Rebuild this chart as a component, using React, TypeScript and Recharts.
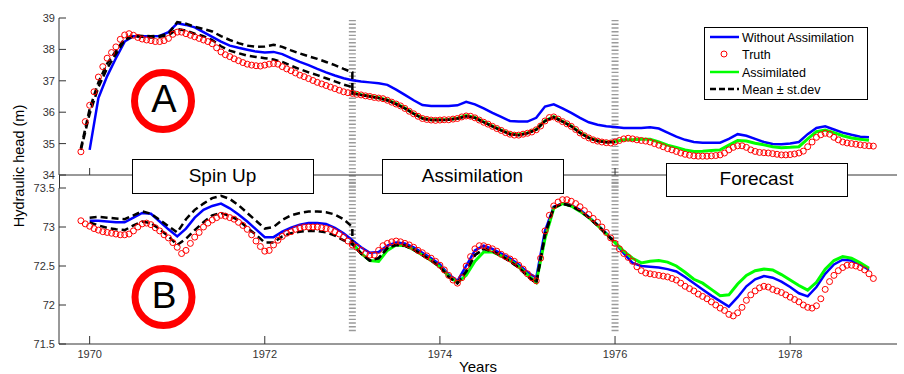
import { LineChart, Line, XAxis, YAxis, ReferenceLine } from "recharts";

// sampling times (decimal years)
const YEARS_LINE = [
  1969.9,
  1970, 1970.1, 1970.2, 1970.3, 1970.4, 1970.5, 1970.6, 1970.7, 1970.8, 1970.9,
  1971, 1971.1, 1971.2, 1971.3, 1971.4, 1971.5, 1971.6, 1971.7, 1971.8, 1971.9,
  1972, 1972.1, 1972.2, 1972.3, 1972.4, 1972.5, 1972.6, 1972.7, 1972.8, 1972.9,
  1973, 1973.1, 1973.2, 1973.3, 1973.4, 1973.5, 1973.6, 1973.7, 1973.8, 1973.9,
  1974, 1974.1, 1974.2, 1974.3, 1974.4, 1974.5, 1974.6, 1974.7, 1974.8, 1974.9,
  1975, 1975.1, 1975.2, 1975.3, 1975.4, 1975.5, 1975.6, 1975.7, 1975.8, 1975.9,
  1976, 1976.1, 1976.2, 1976.3, 1976.4, 1976.5, 1976.6, 1976.7, 1976.8, 1976.9,
  1977, 1977.1, 1977.2, 1977.3, 1977.4, 1977.5, 1977.6, 1977.7, 1977.8, 1977.9,
  1978, 1978.1, 1978.2, 1978.3, 1978.4, 1978.5, 1978.6, 1978.7, 1978.8, 1978.9,
];

const YEARS_TRUTH = [
  1969.9, 1969.95,
  1970, 1970.05, 1970.1, 1970.15, 1970.2, 1970.25, 1970.3, 1970.35, 1970.4, 1970.45,
  1970.5, 1970.55, 1970.6, 1970.65, 1970.7, 1970.75, 1970.8, 1970.85, 1970.9, 1970.95,
  1971, 1971.05, 1971.1, 1971.15, 1971.2, 1971.25, 1971.3, 1971.35, 1971.4, 1971.45,
  1971.5, 1971.55, 1971.6, 1971.65, 1971.7, 1971.75, 1971.8, 1971.85, 1971.9, 1971.95,
  1972, 1972.05, 1972.1, 1972.15, 1972.2, 1972.25, 1972.3, 1972.35, 1972.4, 1972.45,
  1972.5, 1972.55, 1972.6, 1972.65, 1972.7, 1972.75, 1972.8, 1972.85, 1972.9, 1972.95,
  1973, 1973.05, 1973.1, 1973.15, 1973.2, 1973.25, 1973.3, 1973.35, 1973.4, 1973.45,
  1973.5, 1973.55, 1973.6, 1973.65, 1973.7, 1973.75, 1973.8, 1973.85, 1973.9, 1973.95,
  1974, 1974.05, 1974.1, 1974.15, 1974.2, 1974.25, 1974.3, 1974.35, 1974.4, 1974.45,
  1974.5, 1974.55, 1974.6, 1974.65, 1974.7, 1974.75, 1974.8, 1974.85, 1974.9, 1974.95,
  1975, 1975.05, 1975.1, 1975.15, 1975.2, 1975.25, 1975.3, 1975.35, 1975.4, 1975.45,
  1975.5, 1975.55, 1975.6, 1975.65, 1975.7, 1975.75, 1975.8, 1975.85, 1975.9, 1975.95,
  1976, 1976.05, 1976.1, 1976.15, 1976.2, 1976.25, 1976.3, 1976.35, 1976.4, 1976.45,
  1976.5, 1976.55, 1976.6, 1976.65, 1976.7, 1976.75, 1976.8, 1976.85, 1976.9, 1976.95,
  1977, 1977.05, 1977.1, 1977.15, 1977.2, 1977.25, 1977.3, 1977.35, 1977.4, 1977.45,
  1977.5, 1977.55, 1977.6, 1977.65, 1977.7, 1977.75, 1977.8, 1977.85, 1977.9, 1977.95,
  1978, 1978.05, 1978.1, 1978.15, 1978.2, 1978.25, 1978.3, 1978.35, 1978.4, 1978.45,
  1978.5, 1978.55, 1978.6, 1978.65, 1978.7, 1978.75, 1978.8, 1978.85, 1978.9, 1978.95,
];

const X_TICKS = [1970, 1972, 1974, 1976, 1978];
const Y_TICKS_A = [34, 35, 36, 37, 38, 39];
const Y_TICKS_B = [71.5, 72, 72.5, 73, 73.5];
const PHASE_BOUNDS = [1973, 1976];
const PHASES = ["Spin Up", "Assimilation", "Forecast"];
const LEGEND = ["Without Assimilation", "Truth", "Assimilated", "Mean \u00b1 st.dev"];

// ---- panel A ----
const TRUTH_A = [
  34.74, 35.7,
  36.22, 36.65, 37.12, 37.45, 37.72, 37.9, 38.08, 38.32, 38.46, 38.5,
  38.45, 38.38, 38.33, 38.3, 38.28, 38.25, 38.25, 38.28, 38.35, 38.48,
  38.55, 38.55, 38.5, 38.45, 38.4, 38.35, 38.3, 38.25, 38.18, 38.05,
  37.92, 37.83, 37.77, 37.7, 37.64, 37.58, 37.53, 37.5, 37.48, 37.47,
  37.5, 37.53, 37.55, 37.53, 37.45, 37.38, 37.32, 37.25, 37.18, 37.13,
  37.07, 37.01, 36.95, 36.9, 36.85, 36.8, 36.75, 36.7, 36.65, 36.62,
  36.6, 36.57, 36.55, 36.52, 36.5, 36.47, 36.45, 36.43, 36.38, 36.32,
  36.26, 36.2, 36.12, 36.03, 35.95, 35.87, 35.8, 35.77, 35.75, 35.74,
  35.75, 35.76, 35.76, 35.78, 35.8, 35.85, 35.88, 35.87, 35.82, 35.75,
  35.68, 35.62, 35.55, 35.48, 35.42, 35.35, 35.3, 35.27, 35.27, 35.3,
  35.33, 35.37, 35.44, 35.56, 35.72, 35.83, 35.85, 35.78, 35.7, 35.63,
  35.55, 35.45, 35.34, 35.25, 35.18, 35.12, 35.08, 35.05, 35.03, 35.02,
  35.05, 35.1, 35.15, 35.17, 35.15, 35.12, 35.1, 35.08, 35.05, 35.0,
  34.95, 34.9, 34.84, 34.8, 34.75, 34.7, 34.66, 34.63, 34.61, 34.6,
  34.6, 34.6, 34.61, 34.62, 34.64, 34.7, 34.8, 34.88, 34.93, 34.93,
  34.88, 34.8, 34.75, 34.72, 34.71, 34.7, 34.68, 34.66, 34.64, 34.64,
  34.65, 34.67, 34.7, 34.76, 34.9, 35.05, 35.2, 35.28, 35.33, 35.3,
  35.2, 35.12, 35.05, 35.02, 35.0, 34.98, 34.96, 34.94, 34.93, 34.92,
];

const NO_ASSIM_A = [
  null,
  34.8, 36.45, 37.15, 37.72, 38.25, 38.42, 38.42, 38.42, 38.43, 38.55,
  38.83, 38.78, 38.7, 38.55, 38.4, 38.25, 38.12, 38.05, 37.99, 37.93,
  37.9, 37.92, 37.85, 37.72, 37.6, 37.5, 37.38, 37.27, 37.17, 37.08,
  37.02, 36.98, 36.95, 36.92, 36.87, 36.72, 36.55, 36.38, 36.23, 36.2,
  36.2, 36.2, 36.22, 36.33, 36.25, 36.12, 35.98, 35.85, 35.72, 35.7,
  35.7, 35.82, 36.18, 36.25, 36.12, 35.98, 35.82, 35.68, 35.6, 35.55,
  35.53, 35.5, 35.5, 35.5, 35.52, 35.48, 35.35, 35.22, 35.12, 35.05,
  35.03, 35.03, 35.03, 35.15, 35.3, 35.25, 35.15, 35.05, 34.99, 34.98,
  35.0, 35.05, 35.3, 35.5, 35.55, 35.45, 35.35, 35.28, 35.22, 35.2,
];

// 1973.0 .. 1978.9
const ASSIM_A = [
  36.62, 36.56, 36.51, 36.46, 36.39, 36.27, 36.13, 35.96, 35.81, 35.76,
  35.76, 35.77, 35.81, 35.89, 35.83, 35.69, 35.56, 35.43, 35.31, 35.28,
  35.34, 35.45, 35.73, 35.86, 35.71, 35.56, 35.35, 35.19, 35.09, 35.05,
  35.07, 35.12, 35.12, 35.14, 35.14, 35.05, 34.95, 34.88, 34.8, 34.75,
  34.76, 34.78, 34.8, 34.95, 35.1, 35.08, 35.01, 34.96, 34.9, 34.87,
  34.88, 34.9, 35.15, 35.38, 35.43, 35.35, 35.25, 35.18, 35.14, 35.11,
];

// spin-up ensemble mean +/- st.dev, 1969.9 .. 1973.0
const SPIN_HI_A = [
  34.85,
  36.1, 36.95, 37.55, 37.95, 38.35, 38.45, 38.43, 38.42, 38.43, 38.5,
  38.87, 38.82, 38.72, 38.65, 38.57, 38.42, 38.3, 38.2, 38.12, 38.08,
  38.09, 38.15, 38.08, 37.97, 37.87, 37.78, 37.7, 37.6, 37.5, 37.38,
  37.27,
];
const SPIN_LO_A = [
  34.8,
  35.95, 36.8, 37.4, 37.85, 38.3, 38.42, 38.4, 38.38, 38.4, 38.45,
  38.65, 38.6, 38.5, 38.42, 38.3, 38.1, 37.96, 37.88, 37.8, 37.76,
  37.72, 37.68, 37.6, 37.48, 37.37, 37.27, 37.18, 37.08, 36.98, 36.88,
  36.8,
];
// assimilation ensemble mean, 1973.0 .. 1976.0
const MEAN_ASSIM_A = [
  36.6, 36.55, 36.5, 36.45, 36.38, 36.26, 36.12, 35.95, 35.8, 35.75,
  35.75, 35.76, 35.8, 35.87, 35.82, 35.68, 35.55, 35.42, 35.3, 35.27,
  35.33, 35.44, 35.72, 35.84, 35.7, 35.55, 35.34, 35.18, 35.08, 35.04,
  35.05,
];

// ---- panel B ----
const TRUTH_B = [
  73.08, 73.04,
  73.01, 72.98, 72.96, 72.94, 72.93, 72.92, 72.91, 72.9, 72.9, 72.91,
  72.95, 73.0, 73.04, 73.05, 73.03, 72.99, 72.95, 72.9, 72.86, 72.8,
  72.74, 72.66, 72.7, 72.79, 72.87, 72.93, 73.0, 73.05, 73.09, 73.12,
  73.15, 73.14, 73.12, 73.1, 73.06, 73.02, 72.97, 72.9, 72.82, 72.75,
  72.69, 72.7, 72.77, 72.83, 72.88, 72.92, 72.94, 72.97, 72.99, 73.0,
  73.0, 73.0, 73.0, 72.99, 72.98, 72.97, 72.94, 72.91, 72.87, 72.82,
  72.77, 72.74, 72.7, 72.66, 72.64, 72.64, 72.7, 72.76, 72.79, 72.81,
  72.82, 72.81, 72.79, 72.77, 72.74, 72.7, 72.67, 72.63, 72.6, 72.56,
  72.51, 72.45, 72.38, 72.32, 72.28, 72.35, 72.5, 72.62, 72.72, 72.76,
  72.76, 72.74, 72.72, 72.69, 72.65, 72.62, 72.59, 72.56, 72.51, 72.46,
  72.4, 72.35, 72.31, 72.6, 72.95, 73.15, 73.27, 73.32, 73.35, 73.35,
  73.33, 73.3, 73.26, 73.21, 73.16, 73.11, 73.06, 73.0, 72.93, 72.86,
  72.79, 72.72, 72.66, 72.61, 72.56, 72.49, 72.44, 72.41, 72.4, 72.39,
  72.38, 72.37, 72.36, 72.34, 72.32, 72.28, 72.24, 72.21, 72.18, 72.14,
  72.11, 72.08, 72.04, 72.0, 71.96, 71.93, 71.88, 71.86, 71.9, 71.97,
  72.06, 72.13, 72.18, 72.22, 72.24, 72.23, 72.2, 72.18, 72.16, 72.13,
  72.1, 72.07, 72.04, 72.0, 71.97, 71.96, 71.99, 72.08, 72.2, 72.3,
  72.38, 72.44, 72.48, 72.51, 72.51, 72.5, 72.48, 72.45, 72.4, 72.34,
];

const NO_ASSIM_B = [
  null,
  73.08, 73.08, 73.07, 73.06, 73.06, 73.12, 73.18, 73.17, 73.07, 72.97,
  72.88, 72.98, 73.12, 73.22, 73.27, 73.3, 73.24, 73.16, 73.07, 72.97,
  72.87, 72.87, 72.94, 72.99, 73.03, 73.05, 73.05, 73.04, 72.99, 72.92,
  72.83, 72.74, 72.67, 72.68, 72.76, 72.8, 72.79, 72.74, 72.67, 72.6,
  72.52, 72.39, 72.31, 72.5, 72.7, 72.76, 72.72, 72.66, 72.6, 72.52,
  72.42, 72.35, 72.95, 73.26, 73.3, 73.28, 73.22, 73.13, 73.03, 72.92,
  72.8, 72.66, 72.54, 72.5, 72.49, 72.48, 72.46, 72.43, 72.36, 72.28,
  72.2, 72.12, 72.05, 71.98, 72.1, 72.24, 72.33, 72.37, 72.35, 72.3,
  72.23, 72.15, 72.11, 72.23, 72.4, 72.52, 72.58, 72.57, 72.52, 72.45,
];

const ASSIM_B = [
  72.8, 72.66, 72.57, 72.56, 72.7, 72.77, 72.76, 72.71, 72.64, 72.57,
  72.49, 72.37, 72.29, 72.38, 72.56, 72.68, 72.68, 72.63, 72.57, 72.49,
  72.39, 72.29, 72.85, 73.24, 73.3, 73.27, 73.2, 73.12, 73.02, 72.91,
  72.8, 72.69, 72.6, 72.54, 72.56, 72.57, 72.55, 72.5, 72.42, 72.33,
  72.28, 72.2, 72.12, 72.13, 72.27, 72.38, 72.44, 72.46, 72.45, 72.39,
  72.32, 72.25, 72.19, 72.29, 72.46, 72.57, 72.62, 72.6, 72.54, 72.47,
];

const SPIN_HI_B = [
  null,
  73.12, 73.13, 73.12, 73.11, 73.1, 73.15, 73.2, 73.17, 73.09, 73.01,
  72.93, 73.1, 73.22, 73.3, 73.37, 73.4, 73.36, 73.28, 73.18, 73.08,
  72.98, 73.0, 73.09, 73.15, 73.18, 73.2, 73.2, 73.19, 73.16, 73.1,
  73.0,
];
const SPIN_LO_B = [
  null,
  73.06, 73.02, 72.99, 72.97, 72.96, 73.02, 73.07, 73.05, 72.97, 72.88,
  72.77, 72.85, 72.96, 73.06, 73.15, 73.18, 73.14, 73.09, 72.99, 72.9,
  72.8, 72.8, 72.88, 72.92, 72.94, 72.95, 72.95, 72.93, 72.89, 72.83,
  72.78,
];
const MEAN_ASSIM_B = [
  72.78, 72.66, 72.57, 72.6, 72.73, 72.77, 72.76, 72.71, 72.64, 72.57,
  72.49, 72.36, 72.28, 72.43, 72.64, 72.72, 72.69, 72.63, 72.56, 72.48,
  72.37, 72.28, 72.9, 73.25, 73.3, 73.27, 73.21, 73.12, 73.02, 72.91,
  72.8,
];

// ---- layout / style ----
const FONT = '"Liberation Sans", Arial, Helvetica, sans-serif';
const AXIS = "#333";
const TICK = "#333";
const BLUE = "#0000ff";
const GREEN = "#00ff00";
const RED = "#ff0000";
const BLACK = "#000";
const HATCH = "#9a9a9a";
const X_DOMAIN: [number, number] = [1969.65, 1979.22];
const PLOT_LEFT = 59;
const TOP_H = 192;
const TOP_PLOT_BOTTOM = 175;
const BOT_TOP = 175;
const BOT_H = 199;
const BOT_PLOT_BOTTOM = 169; // local to the lower chart

type Pt = { x: number; y: number };
const toPoints = (xs: number[], ys: (number | null)[]): Pt[] =>
  xs
    .map((x, i) => ({ x, y: ys[i] as number }))
    .filter((p) => p.y !== null && p.y !== undefined);

const SPIN_YEARS = YEARS_LINE.slice(0, 32);
const ASSIM_MEAN_YEARS = YEARS_LINE.slice(31, 62);
const ASSIM_YEARS = YEARS_LINE.slice(31);

const YTick = (props: any) => {
  const { y, payload } = props;
  return (
    <g>
      <line x1={PLOT_LEFT} x2={PLOT_LEFT + 7} y1={y} y2={y} stroke={AXIS} />
      <text x={PLOT_LEFT - 4} y={y + 4} textAnchor="end" fontSize={11} fontFamily={FONT} fill={TICK}>
        {payload.value}
      </text>
    </g>
  );
};

const TopXTick = (props: any) => (
  <line x1={props.x} x2={props.x} y1={TOP_PLOT_BOTTOM} y2={TOP_PLOT_BOTTOM - 7} stroke={AXIS} />
);

const BotXTick = (props: any) => (
  <g>
    <line x1={props.x} x2={props.x} y1={BOT_PLOT_BOTTOM} y2={BOT_PLOT_BOTTOM - 8} stroke={AXIS} />
    <text x={props.x} y={BOT_PLOT_BOTTOM + 14} textAnchor="middle" fontSize={11} fontFamily={FONT} fill={TICK}>
      {payload(props)}
    </text>
  </g>
);
function payload(props: any) {
  return props.payload.value;
}

function Panel(p: {
  truth: number[];
  noAssim: (number | null)[];
  assim: number[];
  spinHi: (number | null)[];
  spinLo: (number | null)[];
  meanAssim: number[];
}) {
  return [
    <Line key="truth" data={toPoints(YEARS_TRUTH, p.truth)} dataKey="y" stroke="none"
      dot={{ r: 3, stroke: RED, strokeWidth: 1, fill: "none" }} activeDot={false} isAnimationActive={false} />,
    <Line key="blue" data={toPoints(YEARS_LINE, p.noAssim)} dataKey="y" stroke={BLUE} strokeWidth={2.5}
      dot={false} activeDot={false} isAnimationActive={false} />,
    <Line key="green" data={toPoints(ASSIM_YEARS, p.assim)} dataKey="y" stroke={GREEN} strokeWidth={3}
      dot={false} activeDot={false} isAnimationActive={false} />,
    <Line key="hi" data={[...toPoints(SPIN_YEARS, p.spinHi), ...toPoints(ASSIM_MEAN_YEARS, p.meanAssim)]}
      dataKey="y" stroke={BLACK} strokeWidth={2.5} strokeDasharray="7 4"
      dot={false} activeDot={false} isAnimationActive={false} />,
    <Line key="lo" data={[...toPoints(SPIN_YEARS, p.spinLo), ...toPoints(ASSIM_MEAN_YEARS, p.meanAssim)]}
      dataKey="y" stroke={BLACK} strokeWidth={2.5} strokeDasharray="7 4"
      dot={false} activeDot={false} isAnimationActive={false} />,
  ];
}

const BOXES = [
  { x: 132, y: 159, w: 181, h: 34, base: 182 },
  { x: 382, y: 159, w: 181, h: 34, base: 182 },
  { x: 666, y: 163, w: 181, h: 33, base: 185 },
];

export default function App() {
  return (
    <div style={{ position: "absolute", left: 0, top: 0, width: 904, height: 374, background: "#fff", fontFamily: FONT }}>
      <div style={{ position: "absolute", left: 0, top: 0 }}>
        <LineChart width={904} height={TOP_H} margin={{ top: 18, right: 7, bottom: 0, left: 9 }}>
          <XAxis type="number" dataKey="x" domain={X_DOMAIN} allowDataOverflow ticks={X_TICKS}
            height={17} axisLine={{ stroke: AXIS }} tickLine={false} tick={TopXTick} />
          <YAxis type="number" domain={[34, 39]} ticks={Y_TICKS_A} width={50}
            axisLine={{ stroke: AXIS }} tickLine={false} tick={YTick} />
          {PHASE_BOUNDS.map((b) => (
            <ReferenceLine key={b} segment={[{ x: b, y: 38.94 }, { x: b, y: 33.5 }]} ifOverflow="visible"
              stroke={HATCH} strokeWidth={7} strokeDasharray="1.4 2.3" />
          ))}
          {Panel({ truth: TRUTH_A, noAssim: NO_ASSIM_A, assim: ASSIM_A, spinHi: SPIN_HI_A, spinLo: SPIN_LO_A, meanAssim: MEAN_ASSIM_A })}
        </LineChart>
      </div>
      <div style={{ position: "absolute", left: 0, top: BOT_TOP }}>
        <LineChart width={904} height={BOT_H} margin={{ top: 13, right: 7, bottom: 0, left: 9 }}>
          <XAxis type="number" dataKey="x" domain={X_DOMAIN} allowDataOverflow ticks={X_TICKS}
            height={30} axisLine={{ stroke: AXIS }} tickLine={false} tick={BotXTick} />
          <YAxis type="number" domain={[71.5, 73.5]} ticks={Y_TICKS_B} width={50}
            axisLine={{ stroke: AXIS }} tickLine={false} tick={YTick} />
          {PHASE_BOUNDS.map((b) => (
            <ReferenceLine key={b} segment={[{ x: b, y: 73.58 }, { x: b, y: 71.65 }]} ifOverflow="visible"
              stroke={HATCH} strokeWidth={7} strokeDasharray="1.4 2.3" />
          ))}
          {Panel({ truth: TRUTH_B, noAssim: NO_ASSIM_B, assim: ASSIM_B, spinHi: SPIN_HI_B, spinLo: SPIN_LO_B, meanAssim: MEAN_ASSIM_B })}
        </LineChart>
      </div>

      <svg width={904} height={374} style={{ position: "absolute", left: 0, top: 0, pointerEvents: "none" }}>
        <line x1={PLOT_LEFT + 0.5} x2={PLOT_LEFT + 0.5} y1={175} y2={188} stroke={AXIS} />
        <text x={24} y={166} transform="rotate(-90 24 166)" textAnchor="middle" fontSize={14.5} fontFamily={FONT} fill="#000">
          Hydraulic head (m)
        </text>
        <text x={478} y={372} textAnchor="middle" fontSize={15} fontFamily={FONT} fill="#000">Years</text>

        {BOXES.map((b, i) => (
          <g key={PHASES[i]}>
            <rect x={b.x + 0.5} y={b.y + 0.5} width={b.w} height={b.h} fill="#fff" stroke="#000" strokeWidth={1} />
            <text x={b.x + b.w / 2} y={b.base} textAnchor="middle" fontSize={19} fontFamily={FONT} fill="#000">
              {PHASES[i]}
            </text>
          </g>
        ))}

        <circle cx={163} cy={101} r={28.5} fill="none" stroke={RED} strokeWidth={7} />
        <text x={164} y={112} textAnchor="middle" fontSize={38} fontFamily={FONT} fill="#000">A</text>
        <circle cx={163.5} cy={297} r={28.5} fill="none" stroke={RED} strokeWidth={7} />
        <text x={164} y={308} textAnchor="middle" fontSize={37} fontFamily={FONT} fill="#000">B</text>

        <g>
          <rect x={704.5} y={27.5} width={163} height={72} fill="#fff" stroke="#000" strokeWidth={1} />
          <line x1={710} x2={739} y1={37} y2={37} stroke={BLUE} strokeWidth={2.5} />
          <circle cx={724} cy={54} r={3} fill="none" stroke={RED} strokeWidth={1} />
          <line x1={710} x2={739} y1={72} y2={72} stroke={GREEN} strokeWidth={2.5} />
          <line x1={710} x2={739} y1={89} y2={89} stroke={BLACK} strokeWidth={2.5} strokeDasharray="6 3" />
          {LEGEND.map((t, i) => (
            <text key={t} x={742} y={[41.5, 58.5, 76.5, 93.5][i]} fontSize={12.5} fontFamily={FONT} fill="#000">{t}</text>
          ))}
        </g>
      </svg>
    </div>
  );
}
